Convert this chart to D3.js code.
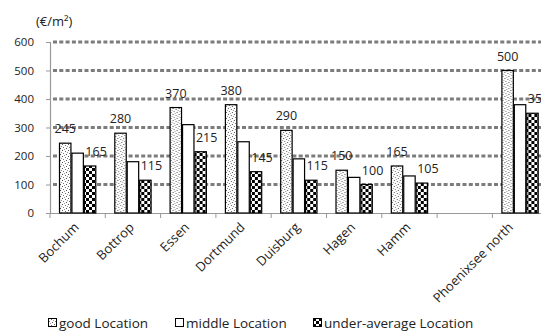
<!DOCTYPE html>
<html>
<head>
<meta charset="utf-8">
<script src="https://cdn.jsdelivr.net/npm/d3@7"></script>
<style>
  html, body { margin: 0; padding: 0; background: #fff; }
  svg { display: block; }
  text { font-family: "Open Sans", "Noto Sans", sans-serif; fill: #222; }
</style>
</head>
<body>
<svg id="chart" width="541" height="331"></svg>
<script>
// Land prices by city and location quality (€/m²)
const categories = ["Bochum", "Bottrop", "Essen", "Dortmund", "Duisburg", "Hagen", "Hamm", "", "Phoenixsee north"];
const seriesNames = ["good Location", "middle Location", "under-average Location"];
const goodValues = [245, 280, 370, 380, 290, 150, 165, null, 500];
const middleValues = [210, 180, 310, 250, 190, 125, 130, null, 380];
const underValues = [165, 115, 215, 145, 115, 100, 105, null, 350];
const yTicks = [0, 100, 200, 300, 400, 500, 600];
const unitLabel = "(€/m²)";

const svg = d3.select("#chart");
const W = 541;

// patterns for the three series
const defs = svg.append("defs");
const stip = defs.append("pattern").attr("id", "pat-good")
  .attr("patternUnits", "userSpaceOnUse").attr("width", 6).attr("height", 6);
stip.append("rect").attr("width", 6).attr("height", 6).attr("fill", "#fff");
[[0, 0, "#555"], [3, 1, "#666"], [1, 3, "#777"], [4, 4, "#555"], [2, 5, "#999"], [5, 2, "#999"]]
  .forEach(([px, py, c]) => stip.append("rect").attr("x", px).attr("y", py)
    .attr("width", 1).attr("height", 1).attr("fill", c));

const chk = defs.append("pattern").attr("id", "pat-under")
  .attr("patternUnits", "userSpaceOnUse").attr("width", 6).attr("height", 6);
chk.append("rect").attr("width", 6).attr("height", 6).attr("fill", "#fff");
chk.append("rect").attr("x", 0).attr("y", 0).attr("width", 3).attr("height", 3).attr("fill", "#000");
chk.append("rect").attr("x", 3).attr("y", 3).attr("width", 3).attr("height", 3).attr("fill", "#000");

const fills = ["url(#pat-good)", "#fff", "url(#pat-under)"];
const seriesValues = [goodValues, middleValues, underValues];

const x0 = d3.scaleBand().domain(categories).range([50, 50 + 9 * 55.3]);
const x1 = d3.scaleBand().domain(seriesNames).range([9, x0.bandwidth() - 9]);
const y = d3.scaleLinear().domain([0, 600]).range([213, 42]);

// gridlines
svg.append("g").selectAll("line").data(yTicks.filter(t => t > 0)).join("line")
  .attr("x1", 53).attr("x2", W)
  .attr("y1", d => y(d)).attr("y2", d => y(d))
  .attr("stroke", "#7c7c7c").attr("stroke-width", 3)
  .attr("stroke-dasharray", "4,2.3");

// y axis
const yAxis = svg.append("g").attr("transform", "translate(50,0)")
  .call(d3.axisLeft(y).tickValues(yTicks).tickSize(4).tickPadding(12));
yAxis.select(".domain").attr("stroke", "#999").attr("stroke-width", 1.2);
yAxis.selectAll(".tick line").attr("stroke", "#999");
yAxis.selectAll(".tick text").attr("font-size", 11.5).attr("fill", "#333")
  .attr("font-family", "Open Sans, sans-serif");

// x axis
const xAxis = svg.append("g").attr("transform", "translate(0,213)")
  .call(d3.axisBottom(x0).tickSize(0).tickFormat(""));
xAxis.select(".domain").attr("stroke", "#999").attr("stroke-width", 1.2);
svg.append("g").selectAll("line").data(categories).join("line")
  .attr("x1", d => x0(d)).attr("x2", d => x0(d))
  .attr("y1", 213).attr("y2", 218).attr("stroke", "#999");

// bars
const groups = svg.append("g").selectAll("g").data(categories).join("g")
  .attr("transform", d => `translate(${x0(d)},0)`);
seriesNames.forEach((s, si) => {
  groups.filter((d, i) => seriesValues[si][i] != null)
    .append("rect")
    .attr("x", x1(s) + 0.5)
    .attr("width", x1.bandwidth() - 1)
    .attr("y", (d) => y(seriesValues[si][categories.indexOf(d)]))
    .attr("height", (d) => 213 - y(seriesValues[si][categories.indexOf(d)]))
    .attr("fill", fills[si]).attr("stroke", "#000").attr("stroke-width", 1.2);
});

// value labels on good and under-average bars
[[0, 0], [2, 6]].forEach(([si, dx]) => {
  groups.filter((d, i) => seriesValues[si][i] != null)
    .append("text")
    .attr("x", x1(seriesNames[si]) + x1.bandwidth() / 2 + dx)
    .attr("y", d => y(seriesValues[si][categories.indexOf(d)]) - 10)
    .attr("text-anchor", "middle")
    .attr("font-size", 12.5)
    .attr("fill", "#111")
    .text(d => seriesValues[si][categories.indexOf(d)]);
});

// rotated category labels, kept inside the drawing area
svg.append("g").selectAll("text").data(categories.filter(c => c)).join("text")
  .attr("transform", d => {
    const cx = Math.min(x0(d) + x0.bandwidth() / 2, 512);
    return `translate(${cx + 2},228) rotate(-45)`;
  })
  .attr("text-anchor", "end")
  .attr("font-size", 13)
  .attr("fill", "#222")
  .text(d => d);

// unit label
svg.append("text").attr("x", 36).attr("y", 26)
  .attr("font-size", 13).attr("fill", "#333").text(unitLabel);

// legend
const legendX = [48, 175, 313];
const lg = svg.append("g").selectAll("g").data(seriesNames).join("g")
  .attr("transform", (d, i) => `translate(${legendX[i]},318)`);
lg.append("rect").attr("x", 0.5).attr("y", 0.5).attr("width", 8).attr("height", 8)
  .attr("fill", (d, i) => fills[i]).attr("stroke", "#000").attr("stroke-width", 1);
lg.append("text").attr("x", 11).attr("y", 9.5)
  .attr("font-size", 13.5).attr("fill", "#222").text(d => d);
</script>
</body>
</html>
